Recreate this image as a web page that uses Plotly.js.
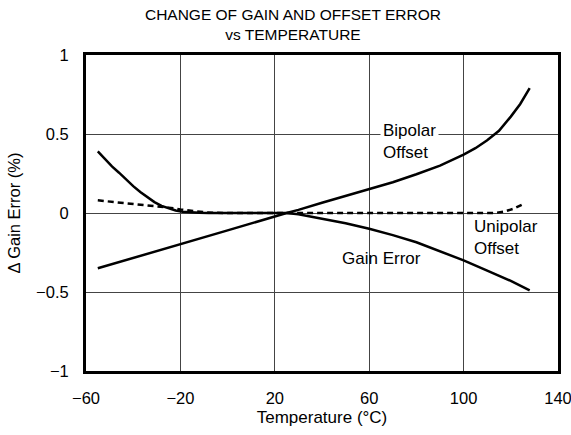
<!DOCTYPE html>
<html>
<head>
<meta charset="utf-8">
<script src="https://cdn.plot.ly/plotly-3.0.1.min.js"></script>
<style>html,body{margin:0;padding:0;background:#fff;}#chart{width:571px;height:435px;}</style>
</head>
<body>
<div id="chart"></div>
<script>
// Temperature (°C) and ΔGain Error (%) values
const bipolarT   = [-55, -40, -20, 0, 25, 30, 40, 50, 60, 70, 80, 90, 100, 105, 110, 115, 120, 124, 128];
const bipolarV   = [-0.35, -0.285, -0.20, -0.11, 0, 0.02, 0.065, 0.107, 0.15, 0.195, 0.245, 0.30, 0.37, 0.41, 0.46, 0.52, 0.61, 0.69, 0.79];

const gainT      = [-55, -52, -49, -46, -43, -40, -37, -34, -31, -28, -25, -22, -19, -16, -12, -8, 25, 30, 40, 50, 60, 70, 80, 90, 100, 110, 120, 128];
const gainV      = [0.39, 0.34, 0.295, 0.255, 0.21, 0.17, 0.133, 0.099, 0.069, 0.045, 0.028, 0.016, 0.008, 0.003, 0.001, 0, 0, -0.008, -0.035, -0.065, -0.10, -0.14, -0.185, -0.24, -0.30, -0.365, -0.43, -0.49];

const unipolarT  = [-55, -45, -35, -25, -20, -15, -10, -5, 0, 25, 60, 100, 113, 117, 121, 126];
const unipolarV  = [0.08, 0.066, 0.051, 0.034, 0.023, 0.013, 0.005, 0.001, 0, 0, 0, 0, 0, 0.008, 0.026, 0.062];

const xTickVals  = [-60, -20, 20, 60, 100, 140];
const xTickText  = ['\u221260', '\u221220', '20', '60', '100', '140'];
const yTickVals  = [-1, -0.5, 0, 0.5, 1];
const yTickText  = ['\u22121', '\u22120.5', '0', '0.5', '1'];

const FONT = 'Liberation Sans, Arial, sans-serif';

const traces = [
  {x: bipolarT, y: bipolarV, mode: 'lines', line: {color: '#000', width: 2.5}, name: 'Bipolar Offset', hoverinfo: 'skip'},
  {x: gainT, y: gainV, mode: 'lines', line: {color: '#000', width: 2.5}, name: 'Gain Error', hoverinfo: 'skip'},
  {x: unipolarT, y: unipolarV, mode: 'lines', line: {color: '#000', width: 2.5, dash: '6px,4px'}, name: 'Unipolar Offset', hoverinfo: 'skip'}
];

const layout = {
  width: 571, height: 435,
  margin: {l: 86, r: 13, t: 55, b: 64},
  paper_bgcolor: '#fff', plot_bgcolor: '#fff',
  showlegend: false,
  font: {family: FONT, color: '#000', size: 16},
  title: {
    text: 'CHANGE OF GAIN AND OFFSET ERROR<br>vs TEMPERATURE',
    font: {family: FONT, size: 15.5, color: '#000'},
    xref: 'container', x: 0.513, xanchor: 'center',
    yref: 'container', y: 0.955, yanchor: 'middle'
  },
  xaxis: {
    range: [-60, 140], tickvals: xTickVals, ticktext: xTickText,
    showgrid: true, gridcolor: '#444', gridwidth: 1, zeroline: false,
    showline: true, linecolor: '#000', linewidth: 3, mirror: true,
    ticks: 'outside', ticklen: 10, tickcolor: 'rgba(0,0,0,0)',
    ticklabeloverflow: 'allow',
    tickfont: {family: FONT, size: 16.5, color: '#000'},
    title: {text: 'Temperature (°C)', font: {family: FONT, size: 17, color: '#000'}, standoff: 6},
    fixedrange: true
  },
  yaxis: {
    range: [-1, 1], tickvals: yTickVals, ticktext: yTickText,
    showgrid: true, gridcolor: '#444', gridwidth: 1, zeroline: false,
    showline: true, linecolor: '#000', linewidth: 3, mirror: true,
    ticks: 'outside', ticklen: 11, tickcolor: 'rgba(0,0,0,0)',
    ticklabeloverflow: 'allow',
    tickfont: {family: FONT, size: 16.5, color: '#000'},
    title: {text: '\u0394 Gain Error (%)', font: {family: FONT, size: 16.5, color: '#000'}, standoff: 12},
    fixedrange: true
  },
  annotations: [
    {x: 64.5, y: 0.455, xref: 'x', yref: 'y', text: 'Bipolar<br>Offset', showarrow: false,
     xanchor: 'left', yanchor: 'middle', align: 'left', bgcolor: '#fff', borderpad: 2,
     font: {family: FONT, size: 17, color: '#000'}},
    {x: 103.5, y: -0.155, xref: 'x', yref: 'y', text: 'Unipolar<br>Offset', showarrow: false,
     xanchor: 'left', yanchor: 'middle', align: 'left', bgcolor: 'rgba(0,0,0,0)',
     font: {family: FONT, size: 17, color: '#000'}},
    {x: 47.8, y: -0.29, xref: 'x', yref: 'y', text: 'Gain Error', showarrow: false,
     xanchor: 'left', yanchor: 'middle', align: 'left', bgcolor: 'rgba(0,0,0,0)',
     font: {family: FONT, size: 17, color: '#000'}}
  ]
};

Plotly.newPlot('chart', traces, layout, {displayModeBar: false, staticPlot: true});
</script>
</body>
</html>
